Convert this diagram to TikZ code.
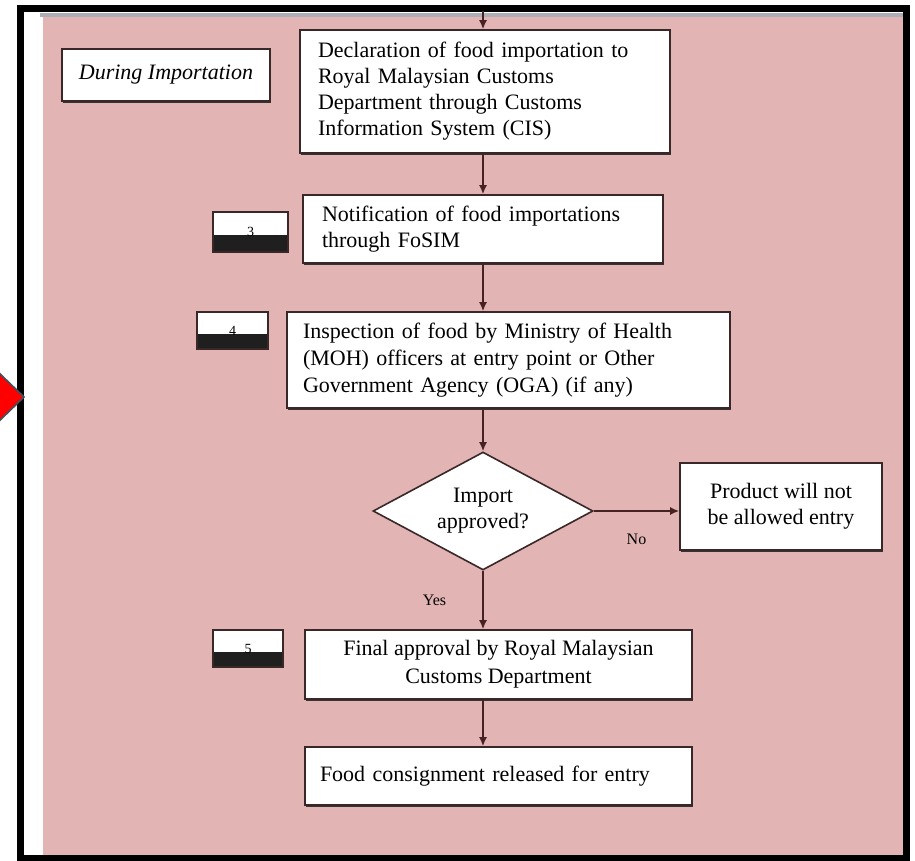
\documentclass[tikz,border=0pt]{standalone}
\usepackage{fontspec}
\setmainfont{Liberation Serif}
\usepackage{tikz}
\usetikzlibrary{arrows.meta, positioning, shapes.geometric, shadows, calc}
\definecolor{bgpink}{RGB}{226,180,180}
\definecolor{boxline}{RGB}{58,40,40}
\definecolor{flowbrown}{RGB}{70,34,34}
\definecolor{framegray}{RGB}{172,176,182}
\definecolor{arrowedge}{RGB}{60,82,92}

\begin{document}
\begin{tikzpicture}[
  x=0.5pt, y=-0.5pt,
  font=\fontsize{11}{13}\selectfont,
  >={Latex[length=4.5pt,width=4pt]},
  box/.style={
    draw=boxline,
    line width=0.8pt,
    fill=white,
    inner sep=0pt,
    drop shadow={shadow xshift=0.3pt, shadow yshift=-1.1pt, fill=black!85, opacity=0.9}
  },
  leftbox/.style={
    box,
    align=left
  },
  centerbox/.style={
    box,
    align=center
  },
  decision/.style={
    diamond,
    aspect=1.86,
    draw=boxline,
    line width=0.8pt,
    fill=white,
    inner sep=0pt,
    align=center
  },
  numbox/.style={
    draw=boxline,
    line width=0.7pt,
    fill=white,
    inner sep=0pt,
    font=\fontsize{7}{8}\selectfont,
    path picture={\fill[black!88]
      (path picture bounding box.south west) rectangle
      ([yshift=-1.5pt]path picture bounding box.east);}
  },
  flow/.style={->, draw=flowbrown, line width=0.8pt},
  tag/.style={font=\fontsize{8}{9}\selectfont, inner sep=1pt}
]
\useasboundingbox (0,0) rectangle (915,861);

% Page frame and background.
\fill[white] (0,0) rectangle (915,861);
\fill[bgpink] (43,16) rectangle (903,855);
\draw[framegray, line width=1.6pt] (40,15) -- (903,15);
\draw[black, line width=3.5pt] (20.5,8.5) rectangle (906.5,858);
\filldraw[fill=red, draw=arrowedge, line width=0.8pt]
  (-4,370) -- (24,397) -- (-4,424) -- cycle;

% Steps of the import procedure.
\node[centerbox, minimum width=104pt, minimum height=26pt,
  font=\fontsize{11}{13}\selectfont\itshape] (during) at (166,75)
  {During Importation};

\node[leftbox, minimum width=185pt, minimum height=61.5pt, text width=167pt] (declare) at (485,91.5)
  {Declaration of food importation to\\
   Royal Malaysian Customs\\
   Department through Customs\\
   Information System (CIS)};

\node[leftbox, minimum width=180pt, minimum height=34pt, text width=161pt] (notify) at (483,229)
  {Notification of food importations\\
   through FoSIM};

\node[leftbox, minimum width=221.5pt, minimum height=48pt, text width=205.5pt,
  font=\fontsize{11}{13.5}\selectfont] (inspect) at (508.5,360)
  {Inspection of food by Ministry of Health\\
   (MOH) officers at entry point or Other\\
   Government Agency (OGA) (if any)};

\node[decision, minimum width=110pt, minimum height=59pt] (approve) at (483,511)
  {Import\\approved?};

\node[centerbox, minimum width=101pt, minimum height=43.5pt] (reject) at (781,506.5)
  {Product will not\\be allowed entry};

\node[centerbox, minimum width=193.5pt, minimum height=34.5pt,
  font=\fontsize{11}{14}\selectfont] (final) at (498.5,664.5)
  {Final approval by Royal Malaysian\\Customs Department};

\node[leftbox, minimum width=193.5pt, minimum height=29pt, text width=178.5pt] (release) at (498.5,776)
  {Food consignment released for entry};

% Step numbers.
\node[numbox, minimum width=37.5pt, minimum height=20pt] (num3) at (250.5,232) {3};
\node[numbox, minimum width=35.5pt, minimum height=18.5pt] (num4) at (232.5,330.5) {4};
\node[numbox, minimum width=35pt, minimum height=18.5pt] (num5) at (248,648.5) {5};

% Connectors.
\coordinate (entry) at (483,11);
\draw[flow] (entry) -- (entry |- declare.north);
\draw[flow] (approve.north |- declare.south) -- (approve.north |- notify.north);
\draw[flow] (approve.north |- notify.south) -- (approve.north |- inspect.north);
\draw[flow] (approve.north |- inspect.south) -- (approve.north);
\draw[flow] (approve.east) -- node[tag, below=10pt]{No} (approve.east -| reject.west);
\draw[flow] (approve.south) -- node[tag, left=17pt]{Yes} (approve.south |- final.north);
\draw[flow] (approve.south |- final.south) -- (approve.south |- release.north);

\end{tikzpicture}
\end{document}
